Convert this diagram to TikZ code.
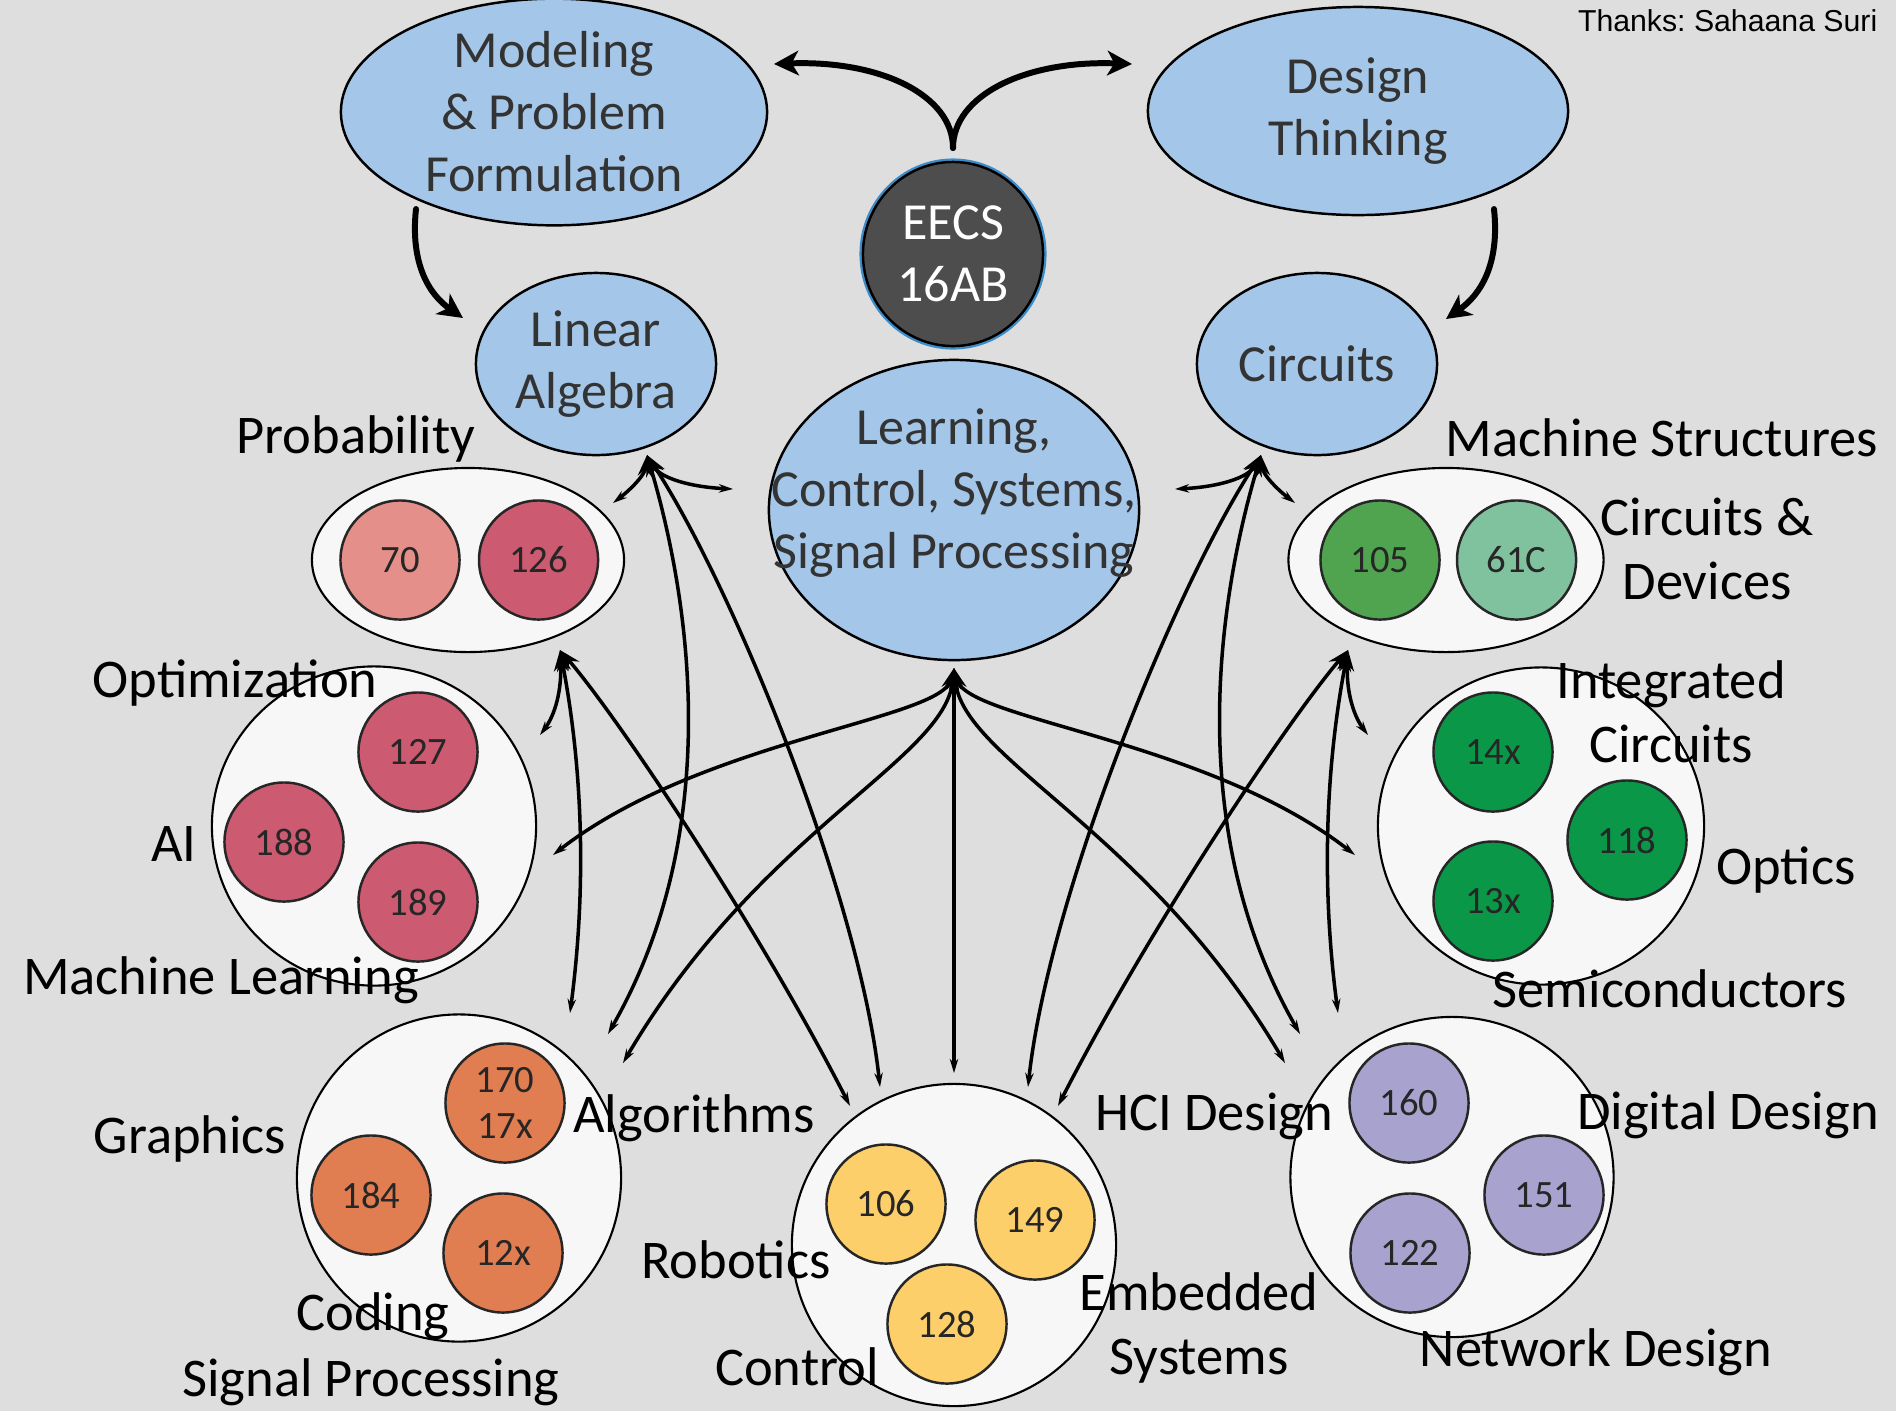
\documentclass[tikz,border=0pt]{standalone}
\usepackage{fontspec}
\setmainfont{Carlito}
\newfontfamily\thanksfont{Liberation Sans}
\usetikzlibrary{positioning,shapes.geometric,arrows.meta}

\definecolor{bgray}{RGB}{222,222,222}
\definecolor{topicblue}{RGB}{164,198,232}
\definecolor{eecsgray}{RGB}{77,77,77}
\definecolor{eecsrim}{RGB}{60,140,200}
\definecolor{grpfill}{RGB}{247,247,247}
\definecolor{probpink}{RGB}{228,143,137}
\definecolor{mlred}{RGB}{204,90,112}
\definecolor{sigorange}{RGB}{224,126,82}
\definecolor{ctrlyellow}{RGB}{253,207,106}
\definecolor{digpurple}{RGB}{168,162,206}
\definecolor{msgreen}{RGB}{80,164,80}
\definecolor{msmint}{RGB}{128,194,158}
\definecolor{icgreen}{RGB}{10,152,72}

\newcommand{\bubblefont}{\fontsize{14.8}{17.6}\selectfont}
\newcommand{\tagfont}{\fontsize{15.5}{18.3}\selectfont}
\newcommand{\numfont}{\fontsize{11}{13}\selectfont}

\begin{document}
\begin{tikzpicture}[
    x=0.01cm, y=-0.01cm,
    topic/.style={ellipse, draw=black, line width=0.7pt, fill=topicblue,
      text=black!80, font=\bubblefont, align=center, inner sep=0pt},
    core/.style={topic, fill=eecsgray, text=white,
      preaction={draw=eecsrim, line width=2pt}},
    grp/.style={ellipse, draw=black, line width=0.6pt, fill=grpfill, inner sep=0pt},
    course/.style={circle, draw=black!85, line width=0.7pt, minimum size=1.19cm,
      inner sep=0pt, font=\numfont, text=black!85, align=center},
    tag/.style={font=\tagfont, align=center, inner sep=0pt},
    heavy/.style={line width=1.7pt, line cap=round,
      arrows={-Stealth[length=7pt,width=7pt,inset=2pt]}},
    wire/.style={line width=1pt,
      arrows={Stealth[length=6pt,width=4pt]-Stealth[length=4pt,width=2.4pt]}}
  ]
  \fill[bgray] (0,0) rectangle (1896,1411);
  \useasboundingbox (0,0) rectangle (1896,1411);

  % big topics
  \node[topic, minimum width=4.26cm, minimum height=2.12cm] (model) at (554,112) {Modeling\\\& Problem\\Formulation};
  \node[topic, minimum width=4.2cm, minimum height=2.08cm] (design) at (1358,111) {Design\\Thinking};
  \node[core, minimum width=1.8cm, minimum height=1.84cm] (eecs) at (953,254) {EECS\\16AB};
  \node[topic, minimum width=2.4cm, minimum height=1.82cm] (linalg) at (596,364) {Linear\\Algebra};
  \node[topic, minimum width=2.4cm, minimum height=1.82cm] (circ) at (1317,364) {Circuits};
  \node[topic, minimum width=3.7cm, minimum height=3cm,
    label={[font=\bubblefont, align=center, text=black!80, yshift=0.17cm]center:{Learning,\\Control, Systems,\\Signal Processing}}] (learn) at (954,510) {};

  % course groups
  \node[grp, minimum width=3.12cm, minimum height=1.84cm] (prob) at (468,560) {};
  \node[course, fill=probpink] (c70) at (400,560) {70};
  \node[course, fill=mlred, right=0.17cm of c70] (c126) {126};

  \node[grp, minimum width=3.24cm, minimum height=3.19cm] (optim) at (374,826) {};
  \node[course, fill=mlred] (c127) at (418,752) {127};
  \node[course, fill=mlred] (c188) at (284,842) {188};
  \node[course, fill=mlred] (c189) at (418,902) {189};

  \node[grp, minimum width=3.15cm, minimum height=1.84cm] (mstruct) at (1446,560) {};
  \node[course, fill=msgreen] (c105) at (1380,560) {105};
  \node[course, fill=msmint, right=0.15cm of c105] (c61c) {61C};

  \node[grp, minimum width=3.26cm, minimum height=3.17cm] (icirc) at (1541,826) {};
  \node[course, fill=icgreen] (c14x) at (1493,752) {14x};
  \node[course, fill=icgreen] (c118) at (1627,840) {118};
  \node[course, fill=icgreen] (c13x) at (1493,901) {13x};

  \node[grp, minimum width=3.24cm, minimum height=3.27cm] (sigp) at (459,1178) {};
  \node[course, fill=sigorange] (c170) at (505,1103) {170\\17x};
  \node[course, fill=sigorange] (c184) at (371,1195) {184};
  \node[course, fill=sigorange] (c12x) at (503,1253) {12x};

  \node[grp, minimum width=3.24cm, minimum height=3.22cm] (ctrl) at (954,1245) {};
  \node[course, fill=ctrlyellow] (c106) at (886,1204) {106};
  \node[course, fill=ctrlyellow] (c149) at (1035,1220) {149};
  \node[course, fill=ctrlyellow] (c128) at (947,1324) {128};

  \node[grp, minimum width=3.23cm, minimum height=3.2cm] (digd) at (1452,1177) {};
  \node[course, fill=digpurple] (c160) at (1409,1103) {160};
  \node[course, fill=digpurple] (c151) at (1544,1195) {151};
  \node[course, fill=digpurple] (c122) at (1410,1253) {122};

  % area labels
  \node[tag] (lprob) at (356,439) {Probability};
  \node[tag] (lopt) at (235,683) {Optimization};
  \node[tag] (lai) at (174,844) {AI};
  \node[tag] (lml) at (221,980) {Machine Learning};
  \node[tag] (lgfx) at (190,1139) {Graphics};
  \node[tag] (lalgo) at (694,1118) {Algorithms};
  \node[tag] (lcode) at (373,1316) {Coding};
  \node[tag] (lsig) at (371,1382) {Signal Processing};
  \node[tag] (lrob) at (736,1260) {Robotics};
  \node[tag] (lctrl) at (797,1367) {Control};
  \node[tag] (lhci) at (1214,1116) {HCI Design};
  \node[tag] (lemb) at (1199,1328) {Embedded\\Systems};
  \node[tag] (ldig) at (1728,1115) {Digital Design};
  \node[tag] (lnet) at (1596,1352) {Network Design};
  \node[tag] (lms) at (1662,438) {Machine Structures};
  \node[tag] (lcd) at (1707,549) {Circuits \&\\Devices};
  \node[tag] (lic) at (1671,712) {Integrated\\Circuits};
  \node[tag] (lopx) at (1786,870) {Optics};
  \node[tag] (lsemi) at (1670,989) {Semiconductors};
  \node[anchor=east, inner sep=0pt, font=\thanksfont\fontsize{8.6}{10}\selectfont] (thanks) at (1878,21) {Thanks:\ Sahaana Suri};

  % arrow ends
  \coordinate (forkBase) at (953,148);
  \coordinate (mdlTip) at (774,64);
  \coordinate (dsnTip) at (1132,64);
  \coordinate (mdlOut) at (416,209);
  \coordinate (laIn) at (463,318);
  \coordinate (dsnOut) at (1494,209);
  \coordinate (cirIn) at (1446,319);
  \coordinate (laTip) at (647,455);
  \coordinate (laLrn) at (733,489);
  \coordinate (laPrb) at (613,503);
  \coordinate (cirTip) at (1261,455);
  \coordinate (cirLrn) at (1175,489);
  \coordinate (cirGrn) at (1295,503);
  \coordinate (prbTip) at (560,650);
  \coordinate (grnTip) at (1348,650);
  \coordinate (lrnTip) at (954,668);
  \coordinate (aEnd) at (608,1034);
  \coordinate (bEnd) at (880,1087);
  \coordinate (cEnd) at (570,1013);
  \coordinate (dEnd) at (850,1106);
  \coordinate (eEnd) at (540,735);
  \coordinate (aEndR) at (1300,1034);
  \coordinate (bEndR) at (1028,1087);
  \coordinate (cEndR) at (1338,1013);
  \coordinate (dEndR) at (1058,1106);
  \coordinate (eEndR) at (1368,735);
  \coordinate (fEnd) at (553,855);
  \coordinate (gEnd) at (623,1063);
  \coordinate (hEnd) at (954,1073);
  \coordinate (iEnd) at (1355,855);
  \coordinate (jEnd) at (1285,1063);

  % heavy arrows at the top
  \draw[heavy] (forkBase) .. controls (953,95) and (880,60) .. (mdlTip);
  \draw[heavy] (forkBase) .. controls (953,95) and (1026,60) .. (dsnTip);
  \draw[heavy] (mdlOut) .. controls (410,265) and (430,295) .. (laIn);
  \draw[heavy] (dsnOut) .. controls (1500,265) and (1480,295) .. (cirIn);

  % linear algebra side
  \draw[wire] (laTip) .. controls (660,478) and (690,487) .. (laLrn);
  \draw[wire] (laTip) .. controls (645,475) and (630,490) .. (laPrb);
  \draw[wire] (laTip) .. controls (690,600) and (725,830) .. (aEnd);
  \draw[wire] (laTip) .. controls (735,590) and (860,900) .. (bEnd);
  \draw[wire] (prbTip) .. controls (585,780) and (585,900) .. (cEnd);
  \draw[wire] (prbTip) .. controls (620,720) and (760,930) .. (dEnd);
  \draw[wire] (prbTip) .. controls (562,690) and (555,715) .. (eEnd);

  % circuits side
  \draw[wire] (cirTip) .. controls (1248,478) and (1218,487) .. (cirLrn);
  \draw[wire] (cirTip) .. controls (1263,475) and (1278,490) .. (cirGrn);
  \draw[wire] (cirTip) .. controls (1218,600) and (1183,830) .. (aEndR);
  \draw[wire] (cirTip) .. controls (1173,590) and (1048,900) .. (bEndR);
  \draw[wire] (grnTip) .. controls (1323,780) and (1323,900) .. (cEndR);
  \draw[wire] (grnTip) .. controls (1288,720) and (1148,930) .. (dEndR);
  \draw[wire] (grnTip) .. controls (1346,690) and (1353,715) .. (eEndR);

  % learning fan
  \draw[wire] (lrnTip) .. controls (940,720) and (700,740) .. (fEnd);
  \draw[wire] (lrnTip) .. controls (945,760) and (760,830) .. (gEnd);
  \draw[wire] (lrnTip) -- (hEnd);
  \draw[wire] (lrnTip) .. controls (968,720) and (1208,740) .. (iEnd);
  \draw[wire] (lrnTip) .. controls (963,760) and (1148,830) .. (jEnd);
\end{tikzpicture}
\end{document}
